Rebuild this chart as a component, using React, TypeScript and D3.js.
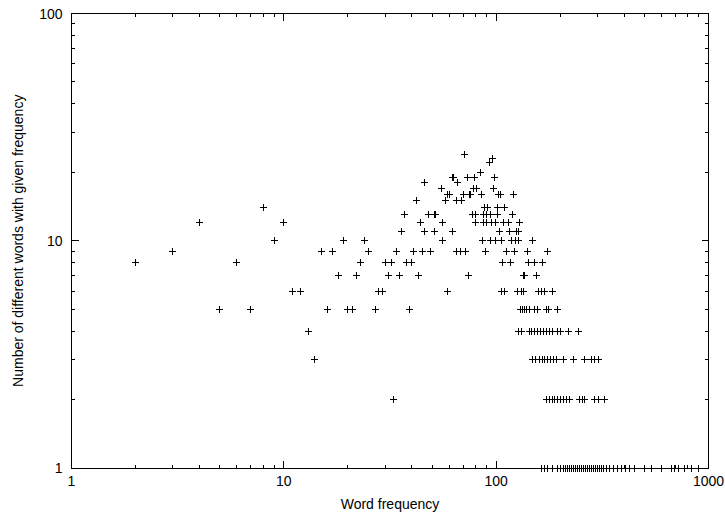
import React, { useEffect, useRef } from "react";
import * as d3 from "d3";

const xTickLabels = ["1", "10", "100", "1000"];
const yTickLabels = ["1", "10", "100"];
const xTitle = "Word frequency";
const yTitle = "Number of different words with given frequency";

// word frequencies, grouped by how many different words have that frequency
const freqCount1 = [163, 168, 174, 184, 194, 200, 207, 212, 216, 221, 226, 231, 236, 241, 246, 252, 257, 263, 269, 275, 281, 287, 293, 300, 306, 313, 320, 330, 341, 356, 372, 389, 406, 424, 448, 499, 538, 600, 669, 691, 722, 771, 831, 897];
const freqCount2 = [33, 172, 178, 184, 188, 194, 200, 207, 214, 221, 246, 255, 260, 290, 303, 324];
const freqCount3 = [14, 148, 154, 160, 165, 168, 174, 180, 186, 192, 207, 231, 260, 281, 290, 303];
const freqCount4 = [13, 127, 131, 143, 146, 151, 156, 161, 167, 172, 178, 184, 194, 200, 219, 244];
const freqCount5 = [5, 7, 16, 20, 21, 27, 39, 130, 133, 136, 139, 143, 151, 157, 172, 176, 194];
const freqCount6 = [11, 12, 28, 29, 59, 106, 109, 126, 131, 135, 158, 163, 168, 184];
const freqCount7 = [18, 22, 31, 35, 43, 74, 134, 136, 155];
const freqCount8 = [2, 6, 23, 30, 32, 38, 40, 107, 117, 142, 152, 165];
const freqCount9 = [3, 15, 17, 25, 34, 41, 45, 49, 65, 68, 72, 89, 112, 122, 140, 174];
const freqCount10 = [9, 19, 24, 56, 86, 94, 99, 106, 118, 123, 128, 149];
const freqCount11 = [36, 46, 51, 62, 104, 115, 125, 127];
const freqCount12 = [4, 10, 44, 56, 80, 87, 90, 95, 99, 108, 114, 129];
const freqCount13 = [37, 48, 51, 52, 77, 80, 87, 90, 94, 101, 119];
const freqCount14 = [8, 88, 91, 102, 110];
const freqCount15 = [42, 58, 65, 69];
const freqCount16 = [59, 60, 70, 75, 76, 85, 103, 105, 121];
const freqCount17 = [55, 78, 81, 97];
const freqCount18 = [46, 66];
const freqCount19 = [62, 63, 73, 79, 98];
const freqCount20 = [84];
const freqCount22 = [93];
const freqCount23 = [96];
const freqCount24 = [71];

const groups: [number, number[]][] = [
  [1, freqCount1], [2, freqCount2], [3, freqCount3], [4, freqCount4],
  [5, freqCount5], [6, freqCount6], [7, freqCount7], [8, freqCount8],
  [9, freqCount9], [10, freqCount10], [11, freqCount11], [12, freqCount12],
  [13, freqCount13], [14, freqCount14], [15, freqCount15], [16, freqCount16],
  [17, freqCount17], [18, freqCount18], [19, freqCount19], [20, freqCount20],
  [22, freqCount22], [23, freqCount23], [24, freqCount24],
];

export default function App() {
  const ref = useRef<SVGSVGElement>(null);

  useEffect(() => {
    const width = 725, height = 513;
    const margin = { top: 13.5, right: 16.5, bottom: 45, left: 71.5 };
    const font = "'Liberation Sans', Arial, Helvetica, sans-serif";
    const svg = d3.select(ref.current);
    svg.selectAll("*").remove();

    const x = d3.scaleLog().domain([1, 1000]).range([margin.left, width - margin.right]);
    const y = d3.scaleLog().domain([1, 100]).range([height - margin.bottom, margin.top]);
    const [x0, x1] = x.range();
    const [y0, y1] = y.range();
    const isMajor = (t: number) => Math.abs(Math.log10(t) - Math.round(Math.log10(t))) < 1e-9;
    const px = (v: number) => Math.round(v - 0.5) + 0.5;

    const ticks = svg.append("g").attr("stroke", "#000").attr("stroke-width", 1).attr("shape-rendering", "crispEdges");
    x.ticks().forEach(t => {
      const len = isMajor(t) ? 7 : 3.5;
      const xx = px(x(t));
      ticks.append("line").attr("x1", xx).attr("x2", xx).attr("y1", y0).attr("y2", y0 - len);
      ticks.append("line").attr("x1", xx).attr("x2", xx).attr("y1", y1).attr("y2", y1 + len);
    });
    y.ticks().forEach(t => {
      const len = isMajor(t) ? 7 : 3.5;
      const yy = px(y(t));
      ticks.append("line").attr("y1", yy).attr("y2", yy).attr("x1", x0).attr("x2", x0 + len);
      ticks.append("line").attr("y1", yy).attr("y2", yy).attr("x1", x1).attr("x2", x1 - len);
    });

    svg.append("rect")
      .attr("x", x0).attr("y", y1)
      .attr("width", x1 - x0).attr("height", y0 - y1)
      .attr("fill", "none").attr("stroke", "#000").attr("stroke-width", 1)
      .attr("shape-rendering", "crispEdges");

    const labels = svg.append("g").attr("font-family", font).attr("font-size", 14).attr("fill", "#000");
    xTickLabels.forEach(l => {
      labels.append("text").attr("x", x(+l)).attr("y", 486).attr("text-anchor", "middle").text(l);
    });
    yTickLabels.forEach(l => {
      labels.append("text").attr("x", x0 - 9).attr("y", y(+l) + 5).attr("text-anchor", "end").text(l);
    });
    labels.append("text").attr("x", (x0 + x1) / 2).attr("y", 509).attr("text-anchor", "middle").text(xTitle);
    labels.append("text")
      .attr("transform", `translate(23,${(y0 + y1) / 2}) rotate(-90)`)
      .attr("text-anchor", "middle").text(yTitle);

    const points = groups.flatMap(([n, fs]) => fs.map(f => ({ f, n })));
    const s = 3.5;
    svg.append("g").selectAll("path").data(points).enter().append("path")
      .attr("d", d => {
        const cx = px(x(d.f)), cy = px(y(d.n));
        return `M${cx - s},${cy}H${cx + s}M${cx},${cy - s}V${cy + s}`;
      })
      .attr("stroke", "#000").attr("stroke-width", 1).attr("fill", "none");
  }, []);

  return (
    <svg ref={ref} width={725} height={513}
      style={{ position: "absolute", left: 0, top: 0, background: "#fff" }} />
  );
}
